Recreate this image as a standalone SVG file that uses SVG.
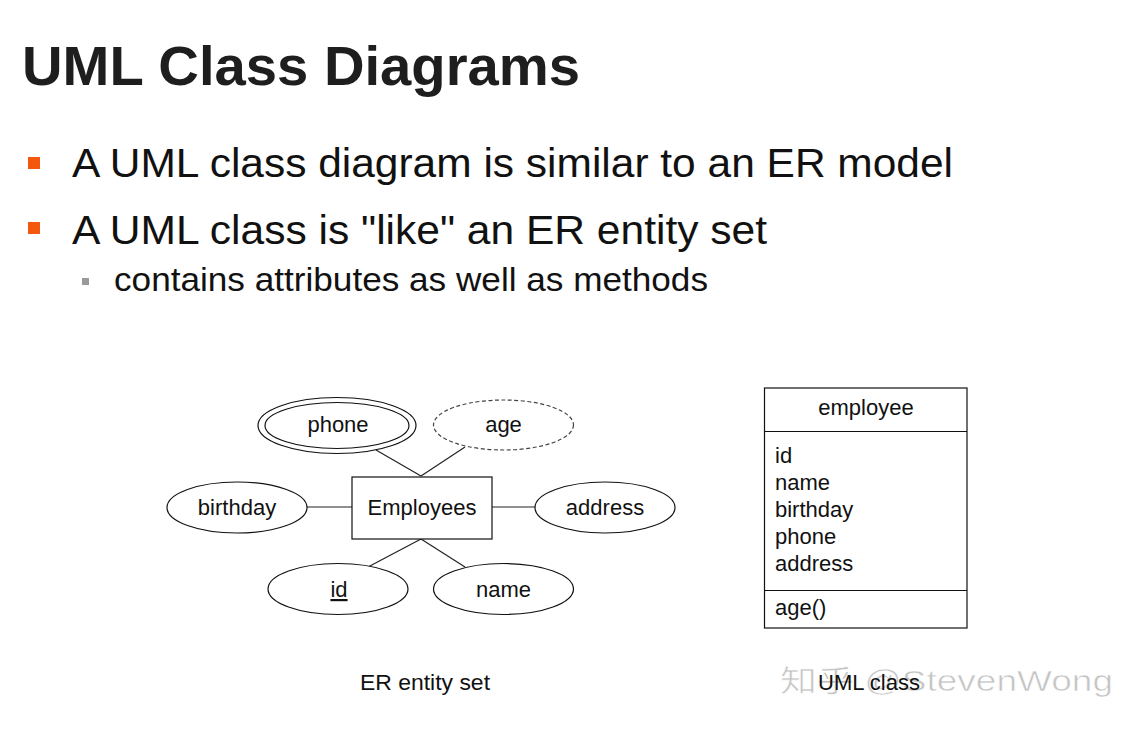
<svg xmlns="http://www.w3.org/2000/svg" width="1141" height="730" viewBox="0 0 1141 730">
<style>
.t{font-family:"Liberation Sans",Arial,sans-serif;fill:#111}
.title{font-size:56px;font-weight:bold;fill:#1e1e1e}
.b1{font-size:40px}
.b2{font-size:34px}
.n{font-size:22px;fill:#111}
.shape{fill:#fff;stroke:#111;stroke-width:1.2}
.conn line{stroke:#222;stroke-width:1.2}
.wm{font-family:"Liberation Sans",Arial,"Noto Sans CJK SC",sans-serif;font-size:30px;fill:#c4c4c4;stroke:#fff;stroke-width:0.6}
</style>
<rect width="1141" height="730" fill="#fff"/>
<text class="t title" x="22" y="85" textLength="558" lengthAdjust="spacingAndGlyphs">UML Class Diagrams</text>
<g id="bullets">
<rect x="28" y="157" width="12" height="12" fill="#f4580f"/>
<text class="t b1" x="72" y="177" textLength="881" lengthAdjust="spacingAndGlyphs">A UML class diagram is similar to an ER model</text>
<rect x="28" y="222" width="12" height="12" fill="#f4580f"/>
<text class="t b1" x="72" y="244" textLength="695" lengthAdjust="spacingAndGlyphs">A UML class is "like" an ER entity set</text>
<rect x="82" y="278" width="7" height="7" fill="#9a9a9a"/>
<text class="t b2" x="114" y="291" textLength="594" lengthAdjust="spacingAndGlyphs">contains attributes as well as methods</text>
</g>
<g class="conn" id="connectors">
<line x1="376" y1="450" x2="421" y2="476"/>
<line x1="465" y1="447" x2="421" y2="476"/>
<line x1="306" y1="507" x2="352" y2="507"/>
<line x1="492" y1="507" x2="536" y2="507"/>
<line x1="421" y1="539" x2="368" y2="567"/>
<line x1="421" y1="539" x2="465" y2="567"/>
</g>
<g id="employees">
<rect class="shape" x="352" y="477" width="140" height="62"/>
<text class="t n" x="422" y="515" text-anchor="middle">Employees</text>
</g>
<g id="phone">
<ellipse class="shape" cx="337" cy="425.5" rx="79" ry="28"/>
<ellipse class="shape" cx="337" cy="425.5" rx="72" ry="23"/>
<text class="t n" x="338" y="432" text-anchor="middle">phone</text>
</g>
<g id="age">
<ellipse class="shape" cx="503.5" cy="425" rx="70" ry="25" stroke-dasharray="4 2.5" style="stroke:#444"/>
<text class="t n" x="503.5" y="432" text-anchor="middle">age</text>
</g>
<g id="birthday">
<ellipse class="shape" cx="237" cy="507.5" rx="70" ry="25.5"/>
<text class="t n" x="237" y="515" text-anchor="middle">birthday</text>
</g>
<g id="address">
<ellipse class="shape" cx="605" cy="507.5" rx="70" ry="25.5"/>
<text class="t n" x="605" y="515" text-anchor="middle">address</text>
</g>
<g id="id">
<ellipse class="shape" cx="338" cy="589" rx="70" ry="25.5"/>
<text class="t n" x="339" y="597" text-anchor="middle" text-decoration="underline">id</text>
</g>
<g id="name">
<ellipse class="shape" cx="503.5" cy="589" rx="70" ry="25.5"/>
<text class="t n" x="503.5" y="597" text-anchor="middle">name</text>
</g>
<g id="uml-class">
<rect class="shape" x="764.5" y="388" width="202.5" height="240"/>
<line x1="764.5" y1="431.5" x2="967" y2="431.5" stroke="#111" stroke-width="1.2"/>
<line x1="764.5" y1="590.5" x2="967" y2="590.5" stroke="#111" stroke-width="1.2"/>
<text class="t n" x="866" y="415" text-anchor="middle">employee</text>
<text class="t n" x="775" y="463">id</text>
<text class="t n" x="775" y="490">name</text>
<text class="t n" x="775" y="517">birthday</text>
<text class="t n" x="775" y="544">phone</text>
<text class="t n" x="775" y="571">address</text>
<text class="t n" x="775" y="615">age()</text>
</g>
<g id="captions">
<text class="wm" x="780" y="691" textLength="333" lengthAdjust="spacingAndGlyphs">知乎 @StevenWong</text>
<text class="t n" x="360" y="690" textLength="130" lengthAdjust="spacingAndGlyphs">ER entity set</text>
<text class="t n" x="818" y="690" textLength="102" lengthAdjust="spacingAndGlyphs">UML class</text>
</g>
</svg>
